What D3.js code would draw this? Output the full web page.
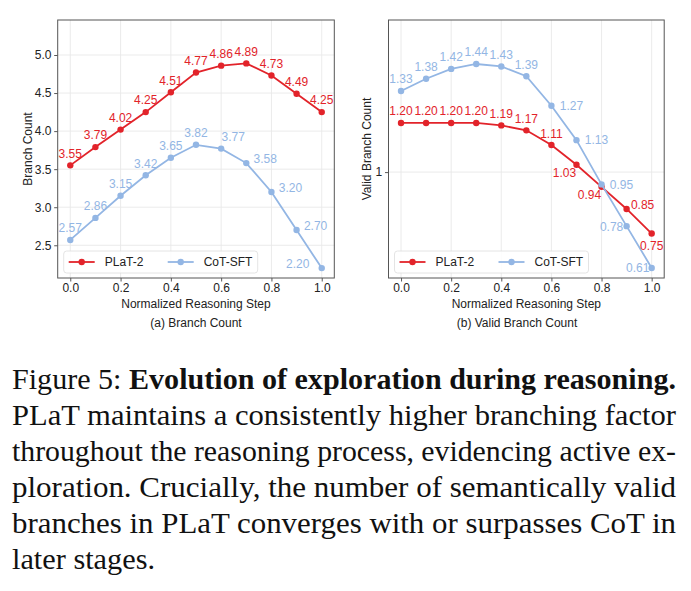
<!DOCTYPE html>
<html>
<head>
<meta charset="utf-8">
<script src="https://cdn.jsdelivr.net/npm/d3@7"></script>
<style>
  body { margin: 0; background: #fff; }
  svg { display: block; }
  .panel text { font-family: 'Liberation Sans', Arial, sans-serif; font-size: 12px; fill: #222; }
</style>
</head>
<body>
<script>
// Width and height
const w = 691;
const h = 591;

// Data
const steps = [0.0, 0.1, 0.2, 0.3, 0.4, 0.5, 0.6, 0.7, 0.8, 0.9, 1.0];
const branchPlat = [3.55, 3.79, 4.02, 4.25, 4.51, 4.77, 4.86, 4.89, 4.73, 4.49, 4.25];
const branchCot = [2.57, 2.86, 3.15, 3.42, 3.65, 3.82, 3.77, 3.58, 3.20, 2.70, 2.20];
const validPlat = [1.20, 1.20, 1.20, 1.20, 1.19, 1.17, 1.11, 1.03, 0.94, 0.85, 0.75];
const validCot = [1.33, 1.38, 1.42, 1.44, 1.43, 1.39, 1.27, 1.13, 0.95, 0.78, 0.61];
const seriesNames = ['PLaT-2', 'CoT-SFT'];
const xTicks = [0.0, 0.2, 0.4, 0.6, 0.8, 1.0];
const branchTicks = [2.5, 3.0, 3.5, 4.0, 4.5, 5.0];
const validTicks = [1];

// Where each value label sits relative to its point [dx, dy]
const up = [0, -12];
const branchPlatOffsets = steps.map(() => up);
const branchCotOffsets = [up, up, up, up, up, up, [12, -12], [19, -4], [19, -4], [19, -4], [-24, -4]];
const validPlatOffsets = [up, up, up, up, up, up, [0, -11], [-12, 8], [-12, 8], [16, -4], [0, 12]];
const validCotOffsets = [up, up, up, up, up, up, [20, 0], [20, 0], [20, 0], [-15, 1], [-14, 0]];

const red = '#e2232a';
const blue = '#93b6e4';

const svg = d3
  .select('body')
  .append('svg')
  .attr('width', w)
  .attr('height', h);

const drawPanel = opts => {
  const g = svg.append('g').attr('class', 'panel');
  const [x0, x1] = opts.xRange;
  const [yTop, yBottom] = [20, 278];

  const x = d3.scaleLinear().domain([-0.05, 1.05]).range([x0, x1]);
  const y = d3.scaleLinear().domain(opts.yDomain).range([yBottom, yTop]);

  // Grid
  g.selectAll('.vgrid')
    .data(xTicks)
    .enter()
    .append('line')
    .attr('x1', d => x(d))
    .attr('x2', d => x(d))
    .attr('y1', yTop)
    .attr('y2', yBottom)
    .attr('stroke', '#e9e9e9')
    .attr('stroke-width', 0.9);
  g.selectAll('.hgrid')
    .data(opts.yTicks)
    .enter()
    .append('line')
    .attr('x1', x0)
    .attr('x2', x1)
    .attr('y1', d => y(d))
    .attr('y2', d => y(d))
    .attr('stroke', '#e9e9e9')
    .attr('stroke-width', 0.9);

  // Axes
  const xAxis = g
    .append('g')
    .attr('transform', `translate(0,${yBottom})`)
    .call(
      d3
        .axisBottom(x)
        .tickValues(xTicks)
        .tickFormat(d3.format('.1f'))
        .tickSizeInner(3.5)
        .tickSizeOuter(0)
        .tickPadding(1.5)
    );
  const yAxis = g
    .append('g')
    .attr('transform', `translate(${x0},0)`)
    .call(
      d3
        .axisLeft(y)
        .tickValues(opts.yTicks)
        .tickFormat(opts.yFormat)
        .tickSizeInner(3.5)
        .tickSizeOuter(0)
        .tickPadding(2.8)
    );
  [xAxis, yAxis].forEach(a => {
    a.select('.domain').remove();
    a.selectAll('line').attr('stroke', '#444').attr('stroke-width', 0.9);
    a.selectAll('text').style('font-size', '12px').attr('fill', '#222');
  });

  // Frame
  g.append('rect')
    .attr('x', x0)
    .attr('y', yTop)
    .attr('width', x1 - x0)
    .attr('height', yBottom - yTop)
    .attr('fill', 'none')
    .attr('stroke', '#555')
    .attr('stroke-width', 1);

  // Series
  const line = d3
    .line()
    .x((d, i) => x(steps[i]))
    .y(d => y(d));

  opts.series.forEach(s => {
    g.append('path')
      .datum(s.values)
      .attr('d', line)
      .attr('fill', 'none')
      .attr('stroke', s.color)
      .attr('stroke-width', 1.8);
    g.selectAll(null)
      .data(s.values)
      .enter()
      .append('circle')
      .attr('cx', (d, i) => x(steps[i]))
      .attr('cy', d => y(d))
      .attr('r', 3.2)
      .attr('fill', s.color);
  });

  // Value labels (drawn after both lines)
  opts.series.forEach(s => {
    g.selectAll(null)
      .data(s.values)
      .enter()
      .append('text')
      .attr('x', (d, i) => x(steps[i]) + s.offsets[i][0])
      .attr('y', (d, i) => y(d) + s.offsets[i][1])
      .attr('dy', '0.36em')
      .attr('text-anchor', 'middle')
      .style('fill', s.color)
      .text(d => d.toFixed(2));
  });

  // Legend
  const lx = x0 + 6;
  const ly = 251;
  const legend = g.append('g').attr('transform', `translate(${lx},${ly})`);
  legend
    .append('rect')
    .attr('width', 194)
    .attr('height', 22)
    .attr('rx', 3)
    .attr('fill', '#fff')
    .attr('fill-opacity', 0.85)
    .attr('stroke', '#ddd')
    .attr('stroke-width', 0.8);
  opts.series.forEach((s, i) => {
    const item = legend.append('g').attr('transform', `translate(${5 + i * 99},11)`);
    item
      .append('line')
      .attr('x1', 0)
      .attr('x2', 26)
      .attr('stroke', s.color)
      .attr('stroke-width', 1.8);
    item
      .append('circle')
      .attr('cx', 13)
      .attr('r', 3.2)
      .attr('fill', s.color);
    item
      .append('text')
      .attr('x', 36)
      .attr('dy', '0.36em')
      .text(s.name);
  });

  // Axis titles
  g.append('text')
    .attr('x', (x0 + x1) / 2)
    .attr('y', 308)
    .attr('text-anchor', 'middle')
    .text('Normalized Reasoning Step');
  g.append('text')
    .attr('transform', `translate(${opts.yLabelX},${(yTop + yBottom) / 2}) rotate(-90)`)
    .attr('text-anchor', 'middle')
    .text(opts.yLabel);
  g.append('text')
    .attr('x', opts.subX)
    .attr('y', 326.5)
    .attr('text-anchor', 'middle')
    .text(opts.subtitle);
};

drawPanel({
  xRange: [57.7, 334.3],
  yDomain: [2.07, 5.46],
  yTicks: branchTicks,
  yFormat: d3.format('.1f'),
  yLabel: 'Branch Count',
  yLabelX: 31.5,
  subtitle: '(a) Branch Count',
  subX: 196,
  series: [
    { name: seriesNames[0], values: branchPlat, color: red, offsets: branchPlatOffsets },
    { name: seriesNames[1], values: branchCot, color: blue, offsets: branchCotOffsets }
  ]
});

drawPanel({
  xRange: [388.5, 664.2],
  yDomain: [0.569, 1.619],
  yTicks: validTicks,
  yFormat: d3.format('d'),
  yLabel: 'Valid Branch Count',
  yLabelX: 371,
  subtitle: '(b) Valid Branch Count',
  subX: 517,
  series: [
    { name: seriesNames[0], values: validPlat, color: red, offsets: validPlatOffsets },
    { name: seriesNames[1], values: validCot, color: blue, offsets: validCotOffsets }
  ]
});

// Caption, justified lines like the paper
const captionLines = [
  { parts: [['Figure 5: ', 'normal'], ['Evolution of exploration during reasoning.', 'bold']], width: 664 },
  { parts: [['PLaT maintains a consistently higher branching factor', 'normal']], width: 664 },
  { parts: [['throughout the reasoning process, evidencing active ex-', 'normal']], width: 664 },
  { parts: [['ploration. Crucially, the number of semantically valid', 'normal']], width: 664 },
  { parts: [['branches in PLaT converges with or surpasses CoT in', 'normal']], width: 664 },
  { parts: [['later stages.', 'normal']], width: 143 }
];

const caption = svg.append('g');
captionLines.forEach((ln, i) => {
  const t = caption
    .append('text')
    .attr('x', 12)
    .attr('y', 389 + i * 36)
    .attr('font-family', "'Liberation Serif', serif")
    .attr('font-size', 29.5)
    .attr('fill', '#111')
    .attr('textLength', ln.width)
    .attr('lengthAdjust', 'spacingAndGlyphs');
  ln.parts.forEach(p => {
    t.append('tspan')
      .attr('font-weight', p[1])
      .text(p[0]);
  });
});
</script>
</body>
</html>
